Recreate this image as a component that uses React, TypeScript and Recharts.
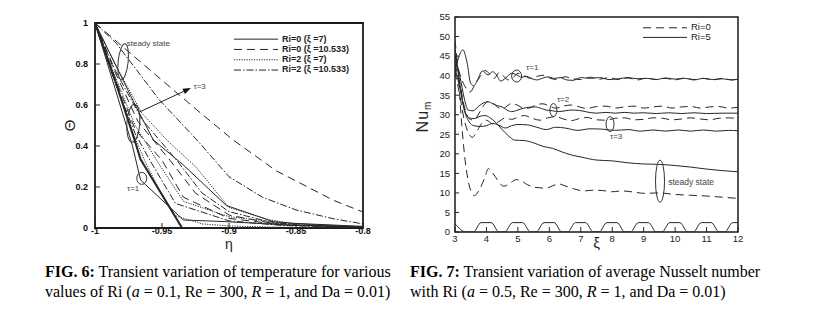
import React from 'react';
import { LineChart, Line, XAxis, YAxis, ReferenceArea, ReferenceDot, ReferenceLine, Legend, Label } from 'recharts';

// ================= FIG. 6 : Theta vs eta =================
const ETA_TICKS = [-1, -0.95, -0.9, -0.85, -0.8];
const THETA_TICKS = [0, 0.2, 0.4, 0.6, 0.8, 1];
const THETA_MINOR = [0.05, 0.1, 0.15, 0.25, 0.3, 0.35, 0.45, 0.5, 0.55, 0.65, 0.7, 0.75, 0.85, 0.9, 0.95];

// Ri=0 (xi=7)  solid
const RI0_XI7_TAU1 = [[-1, 1], [-0.985, 0.72], [-0.97, 0.42], [-0.966, 0.335], [-0.935, 0], [-0.8, 0]];
const RI0_XI7_TAU3 = [[-1, 1], [-0.985, 0.68], [-0.972, 0.4], [-0.966, 0.234], [-0.934, 0.039], [-0.902, 0.031], [-0.857, 0.015], [-0.8, 0.005]];
const RI0_XI7_STEADY = [[-1, 1], [-0.985, 0.8], [-0.97, 0.6], [-0.9565, 0.43], [-0.934, 0.307], [-0.902, 0.11], [-0.867, 0.031], [-0.852, 0.023], [-0.8, 0.008]];
// Ri=0 (xi=10.533) dashed
const RI0_XI10_TAU1 = [[-1, 1], [-0.985, 0.73], [-0.97, 0.48], [-0.95, 0.33], [-0.934, 0.15], [-0.9, 0.047], [-0.86, 0.015], [-0.8, 0.004]];
const RI0_XI10_TAU3 = [[-1, 1], [-0.985, 0.76], [-0.968, 0.52], [-0.944, 0.33], [-0.925, 0.17], [-0.9, 0.063], [-0.87, 0.025], [-0.85, 0.012], [-0.8, 0.003]];
const RI0_XI10_STEADY = [[-1, 1], [-0.966, 0.81], [-0.924, 0.576], [-0.897, 0.43], [-0.865, 0.28], [-0.822, 0.135], [-0.8, 0.078]];
// Ri=2 (xi=7) dotted
const RI2_XI7_TAU1 = [[-1, 1], [-0.985, 0.71], [-0.972, 0.47], [-0.963, 0.33], [-0.95, 0.16], [-0.94, 0.06], [-0.92, 0.02], [-0.9, 0.01], [-0.86, 0.003], [-0.8, 0]];
const RI2_XI7_TAU3 = [[-1, 1], [-0.985, 0.74], [-0.97, 0.5], [-0.954, 0.33], [-0.934, 0.13], [-0.9, 0.055], [-0.857, 0.023], [-0.8, 0.005]];
const RI2_XI7_STEADY = [[-1, 1], [-0.985, 0.8], [-0.965, 0.56], [-0.945, 0.42], [-0.925, 0.3], [-0.9, 0.1], [-0.87, 0.04], [-0.85, 0.02], [-0.8, 0.005]];
// Ri=2 (xi=10.533) dash-dot
const RI2_XI10_TAU1 = [[-1, 1], [-0.985, 0.71], [-0.97, 0.46], [-0.959, 0.33], [-0.94, 0.12], [-0.9, 0.035], [-0.86, 0.012], [-0.8, 0.003]];
const RI2_XI10_TAU3 = [[-1, 1], [-0.985, 0.77], [-0.965, 0.53], [-0.939, 0.33], [-0.92, 0.17], [-0.9, 0.08], [-0.87, 0.03], [-0.85, 0.015], [-0.8, 0.004]];
const RI2_XI10_STEADY = [[-1, 1], [-0.984, 0.9], [-0.952, 0.625], [-0.924, 0.43], [-0.9, 0.25], [-0.875, 0.15], [-0.85, 0.088], [-0.822, 0.045], [-0.8, 0.02]];

const FIG6_LEGEND = ['Ri=0 (\u03BE =7)', 'Ri=0 (\u03BE =10.533)', 'Ri=2 (\u03BE =7)', 'Ri=2 (\u03BE =10.533)'];

// ================= FIG. 7 : Nu_m vs xi =================
const XI_TICKS = [3, 4, 5, 6, 7, 8, 9, 10, 11, 12];
const NU_TICKS = [0, 5, 10, 15, 20, 25, 30, 35, 40, 45, 50, 55];
const NU_MINOR = [1, 2, 3, 4, 6, 7, 8, 9, 11, 12, 13, 14, 16, 17, 18, 19, 21, 22, 23, 24, 26, 27, 28, 29, 31, 32, 33, 34, 36, 37, 38, 39, 41, 42, 43, 44, 46, 47, 48, 49, 51, 52, 53, 54];

const NU_RI5_TAU1 = [[3, 41], [3.1, 44.2], [3.25, 46.6], [3.38, 43.5], [3.5, 38], [3.6, 37.4], [3.72, 39], [3.87, 41.2], [4.05, 40.2], [4.2, 41], [4.32, 40.2], [4.45, 38.6], [4.6, 39.3], [4.8, 40.6], [4.96, 40.2], [5.12, 39.6], [5.28, 39.8], [5.45, 39.2], [5.6, 38.9], [5.8, 39.4], [5.95, 39.7], [6.15, 39.3], [6.35, 39.5], [6.55, 38.9], [6.75, 38.8], [7.0, 39.5], [7.3, 39.3], [7.6, 39.5], [7.9, 39.0], [8.2, 39.2], [8.5, 39.5], [8.8, 39.2], [9.1, 39.3], [9.4, 39.0], [9.7, 39.4], [10.0, 39.1], [10.3, 39.3], [10.6, 38.9], [10.9, 39.3], [11.2, 39.0], [11.5, 39.2], [11.8, 38.9], [12, 39.1]];
const NU_RI0_TAU1 = [[3, 45], [3.15, 40.5], [3.3, 37.5], [3.48, 35.8], [3.62, 37.5], [3.8, 39.8], [3.95, 41.3], [4.1, 40.5], [4.25, 39.3], [4.4, 40.8], [4.55, 39.8], [4.7, 38.9], [4.85, 39.5], [5.0, 40.6], [5.2, 40.0], [5.4, 39.3], [5.6, 39.8], [5.8, 40.1], [6.0, 39.4], [6.25, 39.0], [6.5, 39.7], [6.75, 39.2], [7.0, 39.0], [7.3, 39.6], [7.6, 39.1], [7.9, 39.5], [8.2, 39.0], [8.5, 39.4], [8.8, 38.9], [9.1, 39.4], [9.4, 39.0], [9.7, 39.3], [10.0, 38.9], [10.3, 39.4], [10.6, 39.0], [10.9, 39.3], [11.2, 38.9], [11.5, 39.3], [11.8, 38.9], [12, 39.2]];
const NU_RI5_TAU2 = [[3, 44], [3.15, 40], [3.3, 34], [3.42, 31.2], [3.58, 31.0], [3.74, 32.1], [3.9, 33.0], [4.05, 33.3], [4.2, 32.8], [4.35, 32.3], [4.5, 32.0], [4.65, 31.2], [4.8, 30.8], [5.0, 31.2], [5.15, 31.6], [5.35, 31.9], [5.55, 32.0], [5.75, 31.6], [5.9, 31.2], [6.1, 31.0], [6.3, 30.8], [6.5, 31.0], [6.7, 31.2], [6.95, 31.1], [7.2, 30.7], [7.5, 30.4], [7.8, 30.6], [8.1, 30.4], [8.4, 30.6], [8.7, 30.4], [9.0, 30.5], [9.4, 30.3], [9.8, 30.5], [10.2, 30.3], [10.6, 30.5], [11.0, 30.3], [11.5, 30.4], [12, 30.4]];
const NU_RI0_TAU2 = [[3, 43], [3.15, 38], [3.3, 32], [3.45, 29], [3.6, 28.6], [3.75, 30.2], [3.9, 32.2], [4.05, 33.4], [4.2, 33.0], [4.35, 32.0], [4.5, 31.4], [4.65, 32.2], [4.8, 32.9], [5.0, 32.4], [5.2, 31.6], [5.4, 31.8], [5.6, 32.6], [5.8, 32.8], [6.0, 32.2], [6.2, 31.7], [6.45, 32.2], [6.7, 32.5], [6.95, 32.0], [7.2, 31.6], [7.5, 32.1], [7.8, 32.2], [8.1, 31.7], [8.4, 32.0], [8.7, 32.2], [9.0, 31.7], [9.3, 32.0], [9.6, 32.2], [9.9, 31.7], [10.2, 32.0], [10.5, 32.1], [10.8, 31.7], [11.1, 32.0], [11.4, 32.1], [11.7, 31.7], [12, 31.9]];
const NU_RI5_TAU3 = [[3, 42], [3.15, 37], [3.3, 31], [3.45, 28.2], [3.6, 27.2], [3.8, 27.0], [4.0, 27.2], [4.2, 27.8], [4.4, 27.3], [4.6, 26.6], [4.8, 27.2], [5.0, 27.5], [5.3, 27.4], [5.6, 26.8], [5.9, 26.2], [6.2, 26.8], [6.5, 26.6], [6.9, 26.0], [7.3, 26.4], [7.7, 26.3], [8.1, 26.0], [8.5, 26.2], [8.9, 25.8], [9.3, 26.1], [9.7, 25.8], [10.1, 26.1], [10.5, 25.8], [10.9, 26.1], [11.3, 25.8], [11.7, 26.0], [12, 25.9]];
const NU_RI0_TAU3 = [[3, 41], [3.15, 35], [3.3, 28.5], [3.45, 25], [3.55, 24.2], [3.7, 25.8], [3.85, 27.8], [4.0, 28.6], [4.2, 27.6], [4.4, 28.3], [4.6, 29.2], [4.8, 28.8], [5.0, 29.4], [5.2, 29.8], [5.45, 29.1], [5.7, 28.6], [5.95, 29.2], [6.2, 29.5], [6.45, 28.9], [6.7, 28.5], [6.95, 29.0], [7.2, 29.3], [7.5, 28.7], [7.8, 28.6], [8.1, 29.1], [8.4, 29.2], [8.7, 28.7], [9.0, 28.8], [9.3, 29.2], [9.6, 29.1], [9.9, 28.7], [10.2, 28.9], [10.5, 29.2], [10.8, 28.9], [11.1, 28.7], [11.4, 29.1], [11.7, 29.2], [12, 29.0]];
const NU_RI5_STEADY = [[3, 47], [3.12, 40], [3.28, 32], [3.45, 29.2], [3.6, 29.0], [3.8, 29.6], [3.95, 29.8], [4.1, 29.3], [4.3, 28.0], [4.5, 26.2], [4.7, 24.6], [4.9, 23.5], [5.2, 23.4], [5.5, 22.8], [5.8, 21.9], [6.1, 21.4], [6.4, 20.5], [6.7, 19.7], [7.0, 19.2], [7.5, 18.4], [8.0, 18.2], [8.5, 17.7], [9.0, 17.4], [9.5, 17.3], [10.0, 17.0], [10.5, 16.6], [11.0, 16.1], [11.5, 15.7], [12, 15.4]];
const NU_RI0_STEADY = [[3, 49], [3.1, 41], [3.2, 29], [3.32, 18.5], [3.45, 12], [3.62, 9.3], [3.8, 11.2], [3.95, 14], [4.06, 16.2], [4.2, 15.1], [4.35, 13.3], [4.55, 11.7], [4.75, 12.5], [4.95, 13.4], [5.1, 13.1], [5.3, 12.1], [5.5, 11.5], [5.7, 11.3], [5.9, 11.2], [6.1, 11.8], [6.3, 12.3], [6.5, 11.8], [6.8, 11.0], [7.1, 10.5], [7.4, 10.7], [7.7, 10.6], [8.0, 10.3], [8.3, 10.5], [8.7, 10.2], [9.0, 9.9], [9.5, 10.0], [10.0, 9.6], [10.5, 9.4], [11.0, 9.2], [11.5, 8.9], [12, 8.6]];
const PULSE = [[3, 2.1], [3.35, 0], [3.58, 0], [3.83, 2.4], [4.15, 2.4], [4.4, 0], [4.58, 0], [4.83, 2.4], [5.15, 2.4], [5.4, 0], [5.58, 0], [5.83, 2.4], [6.15, 2.4], [6.4, 0], [6.58, 0], [6.83, 2.4], [7.15, 2.4], [7.4, 0], [7.58, 0], [7.83, 2.4], [8.15, 2.4], [8.4, 0], [8.58, 0], [8.83, 2.4], [9.15, 2.4], [9.4, 0], [9.58, 0], [9.83, 2.4], [10.15, 2.4], [10.4, 0], [10.58, 0], [10.83, 2.4], [11.15, 2.4], [11.4, 0], [11.58, 0], [11.83, 2.4], [12, 2.4]];

const FIG7_LEGEND = ['Ri=0', 'Ri=5'];

// ================= helpers & styles =================
const pts = (arr: number[][]) => arr.map(([x, y]) => ({ x, y }));
const DASH: Record<string, string | undefined> = { solid: undefined, dashed: '8 5', dotted: '1.2 1.3', dashdot: '7 2 1.5 2' };
const INK = '#262626';
const SANS = '"Liberation Sans", Arial, sans-serif';
const SERIF = '"Liberation Serif", "Times New Roman", serif';

const FIG6_SERIES = [
  { d: RI0_XI7_TAU1, s: 'solid', w: 2 },
  { d: RI0_XI7_TAU3, s: 'solid', w: 1 },
  { d: RI0_XI7_STEADY, s: 'solid', w: 1 },
  { d: RI0_XI10_TAU1, s: 'dashed', w: 1 },
  { d: RI0_XI10_TAU3, s: 'dashed', w: 1 },
  { d: RI0_XI10_STEADY, s: 'dashed', w: 1 },
  { d: RI2_XI7_TAU1, s: 'dotted', w: 1 },
  { d: RI2_XI7_TAU3, s: 'dotted', w: 1 },
  { d: RI2_XI7_STEADY, s: 'dotted', w: 1 },
  { d: RI2_XI10_TAU1, s: 'dashdot', w: 1 },
  { d: RI2_XI10_TAU3, s: 'dashdot', w: 1 },
  { d: RI2_XI10_STEADY, s: 'dashdot', w: 1 },
];
const FIG6_LEGEND_STYLES = ['solid', 'dashed', 'dotted', 'dashdot'];

const FIG7_SERIES = [
  { d: NU_RI5_TAU1, s: 'solid' },
  { d: NU_RI0_TAU1, s: 'dashed' },
  { d: NU_RI5_TAU2, s: 'solid' },
  { d: NU_RI0_TAU2, s: 'dashed' },
  { d: NU_RI5_TAU3, s: 'solid' },
  { d: NU_RI0_TAU3, s: 'dashed' },
  { d: NU_RI5_STEADY, s: 'solid' },
  { d: NU_RI0_STEADY, s: 'dashed' },
  { d: PULSE, s: 'solid' },
];
const FIG7_LEGEND_STYLES = ['dashed', 'solid'];

const ellipse = (rx: number, ry: number, rot = 0) => (p: any) => (
  <ellipse cx={p.cx} cy={p.cy} rx={rx} ry={ry} fill="none" stroke="#333" strokeWidth={1}
    transform={`rotate(${rot} ${p.cx} ${p.cy})`} />
);
const note = (txt: string, size = 8) => (p: any) => (
  <text x={p.cx} y={p.cy} fontSize={size} fill="#444" fontFamily={SANS} dominantBaseline="middle">{txt}</text>
);
const arrow = (p: any) => {
  const { x1, y1, x2, y2 } = p;
  const a = Math.atan2(y2 - y1, x2 - x1);
  const L = 8, W = 3;
  const bx = x2 - L * Math.cos(a), by = y2 - L * Math.sin(a);
  const px = -Math.sin(a) * W, py = Math.cos(a) * W;
  return (
    <g>
      <line x1={x1} y1={y1} x2={bx} y2={by} stroke="#222" strokeWidth={1} />
      <polygon points={`${x2},${y2} ${bx + px},${by + py} ${bx - px},${by - py}`} fill="#111" />
    </g>
  );
};

const legendBox = (labels: string[], styles: string[], rowH: number, fontW: string | number, size: number) => () => (
  <svg width={130} height={labels.length * rowH + 8} style={{ overflow: 'visible' }}>
    {labels.map((t, i) => (
      <g key={t}>
        <line x1={0} x2={44} y1={rowH / 2 + i * rowH} y2={rowH / 2 + i * rowH} stroke={INK} strokeWidth={1}
          strokeDasharray={DASH[styles[i]]} />
        <text x={48} y={rowH / 2 + i * rowH} dominantBaseline="middle" fontSize={size} fontWeight={fontW}
          fontFamily={SANS} fill="#222">{t}</text>
      </g>
    ))}
  </svg>
);

export default function App() {
  return (
    <div style={{ position: 'absolute', left: 0, top: 0, width: 813, height: 326, background: '#fff', overflow: 'hidden' }}>
      {/* ---------------- FIG 6 ---------------- */}
      <div style={{ position: 'absolute', left: 0, top: 0 }}>
        <LineChart width={400} height={256} margin={{ top: 23, right: 37, bottom: 8, left: 65 }}>
          <XAxis dataKey="x" type="number" domain={[-1, -0.8]} ticks={ETA_TICKS} allowDataOverflow
            axisLine={false} tickSize={-5} tickMargin={5} height={20}
            tick={{ fontSize: 9, fontWeight: 'bold', fill: '#111', fontFamily: SANS }}
            tickLine={{ stroke: '#222' }} interval={0}>
            <Label content={(p: any) => {
              const vb = p.viewBox;
              return <text x={vb.x + vb.width / 2} y={249} textAnchor="middle" fontSize={14} fontFamily={SANS} fill="#222">{'\u03B7'}</text>;
            }} />
          </XAxis>
          <YAxis dataKey="y" type="number" domain={[0, 1]} ticks={THETA_TICKS} allowDataOverflow
            axisLine={false} tickSize={-5} tickMargin={12} width={30}
            tick={{ fontSize: 9, fontWeight: 'bold', fill: '#111', fontFamily: SANS }}
            tickLine={{ stroke: '#222' }} interval={0}>
            <Label content={(p: any) => {
              const vb = p.viewBox;
              const cx = vb.x + 6, cy = vb.y + vb.height / 2;
              return <text x={cx} y={cy} transform={`rotate(-90 ${cx} ${cy})`} textAnchor="middle" dominantBaseline="middle" fontSize={15} fontFamily={SANS} fill="#222">{'\u0398'}</text>;
            }} />
          </YAxis>
          <YAxis yAxisId="minor" type="number" domain={[0, 1]} ticks={THETA_MINOR} mirror width={0}
            axisLine={false} tick={false} tickSize={3} tickLine={{ stroke: '#333' }} interval={0} />
          {FIG6_SERIES.map((s, i) => (
            <Line key={i} data={pts(s.d)} dataKey="y" type="linear" stroke={INK} strokeWidth={s.w}
              strokeDasharray={DASH[s.s]} dot={false} activeDot={false} isAnimationActive={false} />
          ))}
          <ReferenceDot x={-0.979} y={0.811} shape={ellipse(5, 18, 6)} />
          <ReferenceDot x={-0.9763} y={0.9} shape={note('steady state', 8)} />
          <ReferenceDot x={-0.9714} y={0.511} shape={ellipse(6.5, 19, 4)} />
          <ReferenceLine segment={[{ x: -0.9664, y: 0.567 }, { x: -0.9284, y: 0.683 }]} shape={arrow} />
          <ReferenceDot x={-0.9265} y={0.69} shape={note('\u03C4=3', 8)} />
          <ReferenceDot x={-0.9651} y={0.242} shape={ellipse(5, 6)} />
          <ReferenceDot x={-0.9761} y={0.19} shape={note('\u03C4=1', 8)} />
          <ReferenceArea x1={-1} x2={-0.8} y1={0} y2={1} fill="none" stroke="#1a1a1a" strokeWidth={1.8} ifOverflow="visible" />
          <Legend layout="vertical" align="center" verticalAlign="middle"
            wrapperStyle={{ left: 234, top: 34, width: 126, height: 48 }}
            content={legendBox(FIG6_LEGEND, FIG6_LEGEND_STYLES, 10.3, 'bold', 9)} />
        </LineChart>
      </div>

      {/* ---------------- FIG 7 ---------------- */}
      <div style={{ position: 'absolute', left: 400, top: 0 }}>
        <LineChart width={413} height={255} margin={{ top: 17, right: 75, bottom: 3, left: 30 }}>
          <XAxis dataKey="x" type="number" domain={[3, 12]} ticks={XI_TICKS} allowDataOverflow
            axisLine={false} tickSize={-5} tickMargin={8} height={20}
            tick={{ fontSize: 9.5, fill: '#222', fontFamily: SANS }} tickLine={{ stroke: '#222' }} interval={0}>
            <Label content={(p: any) => {
              const vb = p.viewBox;
              return <text x={vb.x + vb.width / 2} y={248} textAnchor="middle" fontSize={15} fontFamily={SANS} fill="#222">{'\u03BE'}</text>;
            }} />
          </XAxis>
          <YAxis dataKey="y" type="number" domain={[0, 55]} ticks={NU_TICKS} allowDataOverflow
            axisLine={false} tickSize={-4} tickMargin={9} width={25}
            tick={{ fontSize: 9.5, fill: '#222', fontFamily: SANS }} tickLine={{ stroke: '#222' }} interval={0}>
            <Label content={(p: any) => {
              const vb = p.viewBox;
              const cx = vb.x - 6, cy = vb.y + vb.height / 2 - 8;
              return (
                <text x={cx} y={cy} transform={`rotate(-90 ${cx} ${cy})`} textAnchor="middle" dominantBaseline="middle"
                  fontSize={16} letterSpacing={1} fontFamily={SANS} fill="#222">
                  Nu<tspan fontSize={10} dy={4}>m</tspan>
                </text>
              );
            }} />
          </YAxis>
          <YAxis yAxisId="minor" type="number" domain={[0, 55]} ticks={NU_MINOR} mirror width={0}
            axisLine={false} tick={false} tickSize={2} tickLine={{ stroke: '#333' }} interval={0} />
          {FIG7_SERIES.map((s, i) => (
            <Line key={i} data={pts(s.d)} dataKey="y" type="monotone" stroke={INK} strokeWidth={1}
              strokeDasharray={DASH[s.s]} dot={false} activeDot={false} isAnimationActive={false} />
          ))}
          <ReferenceDot x={4.96} y={39.9} shape={ellipse(5, 6)} />
          <ReferenceDot x={5.26} y={41.9} shape={note('\u03C4=1', 8)} />
          <ReferenceDot x={6.13} y={31.2} shape={ellipse(3.5, 6.5)} />
          <ReferenceDot x={6.24} y={33.8} shape={note('\u03C4=2', 8)} />
          <ReferenceDot x={7.93} y={27.6} shape={ellipse(4, 7.5)} />
          <ReferenceDot x={7.93} y={24.3} shape={note('\u03C4=3', 8)} />
          <ReferenceDot x={9.52} y={13.0} shape={ellipse(4.5, 21)} />
          <ReferenceDot x={9.78} y={12.6} shape={note('steady state', 8.5)} />
          <ReferenceArea x1={3} x2={12} y1={0} y2={55} fill="none" stroke="#1a1a1a" strokeWidth={1.5} ifOverflow="visible" />
          <Legend layout="vertical" align="center" verticalAlign="middle"
            wrapperStyle={{ left: 243, top: 23, width: 100, height: 30 }}
            content={legendBox(FIG7_LEGEND, FIG7_LEGEND_STYLES, 9.6, 'normal', 9.5)} />
        </LineChart>
      </div>

      {/* ---------------- captions ---------------- */}
      <div style={{ position: 'absolute', left: 45, top: 262, fontFamily: SERIF, fontSize: 16, lineHeight: '20px', color: '#000', whiteSpace: 'nowrap' }}>
        <div><b>FIG. 6:</b> Transient variation of temperature for various</div>
        <div>values of Ri (<i>a</i> = 0.1, Re = 300, <i>R</i> = 1, and Da = 0.01)</div>
      </div>
      <div style={{ position: 'absolute', left: 410, top: 262, fontFamily: SERIF, fontSize: 16, lineHeight: '20px', color: '#000', whiteSpace: 'nowrap' }}>
        <div><b>FIG. 7:</b> Transient variation of average Nusselt number</div>
        <div>with Ri (<i>a</i> = 0.5, Re = 300, <i>R</i> = 1, and Da = 0.01)</div>
      </div>
    </div>
  );
}
